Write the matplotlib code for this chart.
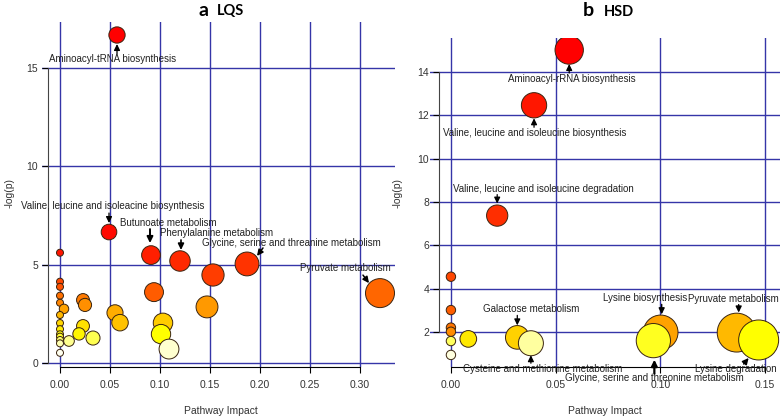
import numpy as np
import matplotlib
matplotlib.use('Agg')
import matplotlib.pyplot as plt
from matplotlib.colors import hsv_to_rgb
from matplotlib.transforms import offset_copy

plt.rcParams['font.family'] = ['Liberation Sans', 'DejaVu Sans']

# ---- data ----
# panel a: LQS
lqs_impact = [0.057, 0.049, 0.0, 0.091, 0.120, 0.187, 0.153, 0.0, 0.0, 0.094,
              0.320, 0.0, 0.023, 0.0, 0.025, 0.147, 0.004, 0.055, 0.0, 0.060,
              0.103, 0.0, 0.023, 0.0, 0.019, 0.101, 0.0, 0.0, 0.033, 0.0,
              0.009, 0.0, 0.109, 0.0]
lqs_logp = [16.65, 6.65, 5.60, 5.48, 5.18, 5.03, 4.47, 4.13, 3.87, 3.60,
            3.55, 3.42, 3.20, 3.06, 2.95, 2.85, 2.75, 2.55, 2.44, 2.05,
            2.04, 2.03, 1.88, 1.72, 1.48, 1.47, 1.46, 1.34, 1.27, 1.17,
            1.12, 1.00, 0.71, 0.52]
lqs_names = ['Aminoacyl-tRNA biosynthesis',
             'Valine, leucine and isoleacine biosynthesis',
             '', 'Butunoate metabolism', 'Phenylalanine metabolism',
             'Glycine, serine and threanine metabolism', '', '', '', '',
             'Pyruvate metabolism'] + [''] * 23

# panel b: HSD
hsd_impact = [0.0565, 0.0397, 0.0221, 0.0, 0.0, 0.0, 0.0, 0.1002, 0.1365,
              0.0317, 0.0083, 0.147, 0.0967, 0.0, 0.0382, 0.0]
hsd_logp = [15.01, 12.46, 7.37, 4.55, 3.01, 2.20, 2.01, 1.98, 1.97,
            1.75, 1.68, 1.63, 1.60, 1.58, 1.48, 0.94]
hsd_names = ['Aminoacyl-rRNA biosynthesis',
             'Valine, leucine and isoleucine biosynthesis',
             'Valine, leucine and isoleucine degradation', '', '', '', '',
             'Lysine biosynthesis', 'Pyruvate metabolism',
             'Galactose metabolism', '', 'Lysine degradation',
             'Glycine, serine and threonine metabolism', '',
             'Cysteine and methionine metabolism', '']

# label layout, pixels from bubble centre (y down):
# text dx, dy, arrow tail dx, dy, arrow head dx, dy, line width
lqs_layout = {
    'Aminoacyl-tRNA biosynthesis': (-4, 24, 0, 19, 0, 9, 0.9),
    'Valine, leucine and isoleacine biosynthesis': (4, -26, 0, -19, 0, -9, 0.9),
    'Butunoate metabolism': (17, -32, -1, -26, -1, -12, 1.4),
    'Phenylalanine metabolism': (37, -28, 1, -21, 1, -11, 1.2),
    'Glycine, serine and threanine metabolism': (44, -21, 16, -16, 10, -8, 1.1),
    'Pyruvate metabolism': (-35, -25, -17, -18, -11, -10, 1.1),
}
hsd_layout = {
    'Aminoacyl-rRNA biosynthesis': (3, 29, 0, 23, 0, 14, 0.9),
    'Valine, leucine and isoleucine biosynthesis': (1, 28, 0, 22, 0, 13, 0.9),
    'Valine, leucine and isoleucine degradation': (46, -27, 0, -21, 0, -12, 0.9),
    'Galactose metabolism': (14, -28, 0, -22, 0, -12, 0.9),
    'Cysteine and methionine metabolism': (12, 26, 0, 20, 0, 12, 0.9),
    'Lysine biosynthesis': (-16, -34, 1, -28, 1, -18, 1.0),
    'Pyruvate metabolism': (-3, -34, 2, -28, 2, -20, 1.0),
    'Glycine, serine and threonine metabolism': (1, 37, 1, 33, 1, 19, 1.6),
    'Lysine degradation': (-23, 29, -15, 24, -10, 18, 1.1),
}


def heat_colors(n):
    # same ramp as R's heat.colors()
    j = n // 4
    i = n - j
    cols = [hsv_to_rgb((h, 1, 1)) for h in np.linspace(0, 1 / 6, i)]
    if j > 0:
        cols += [hsv_to_rgb((1 / 6, s, 1))
                 for s in np.linspace(1 - 1 / (2 * j), 1 / (2 * j), j)]
    return cols


def bubble_panel(fig, rect, impact, logp, names, layout, xlim, ylim,
                 xticks, yticks, spine_x, rmin, rmax):
    ax = fig.add_axes(rect)
    impact = np.asarray(impact)
    logp = np.asarray(logp)
    order = np.argsort(-logp, kind='stable')
    cols = heat_colors(len(logp))
    # radius in px grows with sqrt(impact)
    r = rmin + (rmax - rmin) * np.sqrt(impact / impact.max())
    s = (2 * r * 0.72) ** 2

    for v in xticks:
        ax.axvline(v, color='#3535a8', lw=1.0, zorder=1)
    for v in yticks:
        ax.axhline(v, color='#3535a8', lw=1.0, zorder=1)

    ax.scatter(impact[order], logp[order], s=s[order],
               c=[cols[k] for k in range(len(order))],
               edgecolors='#3a2410', linewidths=0.7, zorder=3)

    for k, name in enumerate(names):
        if not name:
            continue
        tx, ty, ax0, ay0, hx, hy, lw = layout[name]
        x, y = impact[k], logp[k]
        ax.annotate(name, xy=(x, y), xytext=(tx * 0.72, -ty * 0.72),
                    textcoords='offset points', ha='center', va='center',
                    fontsize=7, color='#222222', zorder=5,
                    annotation_clip=False)
        head = offset_copy(ax.transData, fig=fig, x=hx * 0.72, y=-hy * 0.72,
                           units='points')
        tail = offset_copy(ax.transData, fig=fig, x=ax0 * 0.72, y=-ay0 * 0.72,
                           units='points')
        ax.annotate('', xy=(x, y), xycoords=head, xytext=(x, y),
                    textcoords=tail, zorder=5, annotation_clip=False,
                    arrowprops=dict(arrowstyle='-|>,head_length=0.45,head_width=0.22',
                                    color='black', lw=lw, shrinkA=0, shrinkB=0,
                                    mutation_scale=8))

    ax.set_xlim(*xlim)
    ax.set_ylim(*ylim)
    ax.set_xticks(xticks)
    ax.set_xticklabels(['%.2f' % v for v in xticks])
    ax.set_yticks(yticks)
    ax.set_yticklabels(['%d' % v for v in yticks], rotation=90, va='center')
    for side in ['top', 'right']:
        ax.spines[side].set_visible(False)
    ax.spines['left'].set_position(('data', spine_x))
    ax.spines['left'].set_bounds(yticks[0], yticks[-1])
    ax.spines['left'].set_color('#444444')
    ax.spines['bottom'].set_bounds(xticks[0], xticks[-1])
    for sp in ['left', 'bottom']:
        ax.spines[sp].set_linewidth(0.8)
    ax.tick_params(axis='both', length=4, width=0.8, labelsize=7.5,
                   labelcolor='#333333')
    ax.tick_params(axis='x', pad=5)
    ax.tick_params(axis='y', pad=3)
    ax.patch.set_alpha(0)
    return ax


W, H = 780, 418
fig = plt.figure(figsize=(W / 100, H / 100), dpi=100)


def frac(x0, y0, x1, y1):
    return [x0 / W, 1 - y1 / H, (x1 - x0) / W, (y1 - y0) / H]


bubble_panel(fig, frac(42, 22, 395, 367), lqs_impact, lqs_logp, lqs_names,
             lqs_layout, (-0.018, 0.335), (-0.2, 17.31),
             [0.0, 0.05, 0.10, 0.15, 0.20, 0.25, 0.30], [0, 5, 10, 15],
             -0.012, 3.5, 14.5)
bubble_panel(fig, frac(430, 38, 780, 367), hsd_impact, hsd_logp, hsd_names,
             hsd_layout, (-0.01, 0.1572), (0.383, 15.565),
             [0.0, 0.05, 0.10, 0.15], [2, 4, 6, 8, 10, 12, 14],
             -0.0057, 4.7, 20)

# axis titles and panel headings
for x in (221, 605):
    fig.text(x / W, 1 - 411 / H, 'Pathway Impact', ha='center', va='center',
             fontsize=7.5, color='#333333')
for x in (10, 398):
    fig.text(x / W, 1 - 193 / H, '-log(p)', ha='center', va='center',
             rotation=90, fontsize=7.5, color='#333333')

fig.text(203 / W, 1 - 11 / H, 'a', ha='center', va='center', fontsize=14,
         fontweight='bold', family='Lato')
fig.text(231 / W, 1 - 11 / H, 'LQS', ha='center', va='center', fontsize=10.5,
         fontweight='bold', family='Lato')
fig.text(588 / W, 1 - 11 / H, 'b', ha='center', va='center', fontsize=14,
         fontweight='bold', family='Lato')
fig.text(619 / W, 1 - 12 / H, 'HSD', ha='center', va='center', fontsize=10.5,
         fontweight='bold', family='Lato')

fig.savefig('out.png', dpi=100)
